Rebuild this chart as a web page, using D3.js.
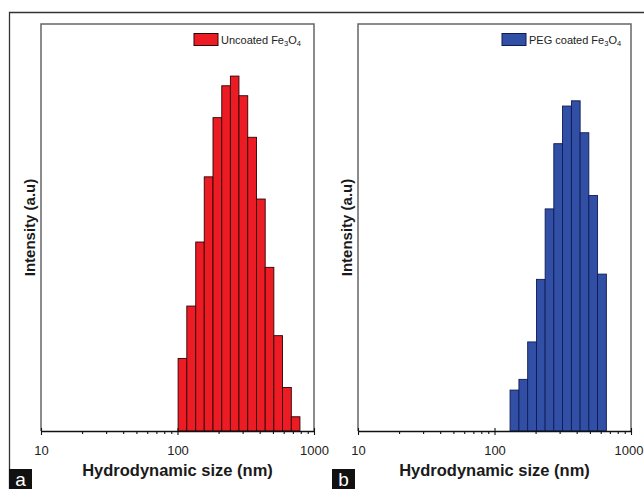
<!DOCTYPE html>
<html lang="en">
	<head>
		<meta charset="utf-8">
		<title>DLS size distribution</title>
		<script type="text/javascript" src="https://cdn.jsdelivr.net/npm/d3@7"></script>
		<style type="text/css">
			body { margin: 0; background: #fff; }
			text { font-family: "Liberation Sans", Arial, sans-serif; }
		</style>
	</head>
	<body>
		<script type="text/javascript">

			//Width and height
			var w = 644;
			var h = 489;

			//Bin edges (nm) and intensities
			var uncoatedEdges = [101, 117, 136, 157, 182, 211, 244, 282, 327, 379, 439, 508, 588, 682, 789];
			var uncoatedValues = [2.55, 4.39, 6.64, 8.93, 11.01, 12.13, 12.47, 11.78, 10.32, 8.15, 5.75, 3.35, 1.53, 0.50];

			var pegEdges = [130, 151, 175, 203, 235, 272, 315, 366, 424, 491, 569, 660];
			var pegValues = [1.87, 2.36, 4.07, 6.93, 10.15, 13.13, 14.85, 15.09, 13.63, 10.76, 7.17];

			var xTicksMajor = [10, 100, 1000];
			var xTicksMinor = [20, 30, 40, 50, 60, 70, 80, 90, 200, 300, 400, 500, 600, 700, 800, 900];

			var svg = d3.select("body")
						.append("svg")
						.attr("width", w)
						.attr("height", h);

			//outer figure frame
			svg.append("path")
			   .attr("d", "M9.5," + h + "V12.5H" + w)
			   .attr("fill", "none")
			   .attr("stroke", "#333")
			   .attr("stroke-width", 1.3);

			var panels = [
				{ edges: uncoatedEdges, values: uncoatedValues, yMax: 14.3, x0: 41, x1: 314,
				  fill: "#ed1c24", stroke: "#2a0505", legend: "Uncoated Fe", legX: 194, letter: "a", letX: 9 },
				{ edges: pegEdges, values: pegValues, yMax: 18.6, x0: 358, x1: 631,
				  fill: "#3150a5", stroke: "#101a55", legend: "PEG coated Fe", legX: 502, letter: "b", letX: 332 }
			];

			var plotTop = 24, plotBottom = 431;

			panels.forEach(function(p) {

				var xScale = d3.scaleLog()
							   .domain([10, 1000])
							   .range([p.x0, p.x1]);

				var yScale = d3.scaleLinear()
							   .domain([0, p.yMax])
							   .range([plotBottom, plotTop]);

				var bins = p.values.map(function(v, i) {
					return { lo: p.edges[i], hi: p.edges[i + 1], v: v };
				});

				var g = svg.append("g");

				g.selectAll("rect")
				 .data(bins)
				 .enter()
				 .append("rect")
				 .attr("x", function(d) { return xScale(d.lo); })
				 .attr("y", function(d) { return yScale(d.v); })
				 .attr("width", function(d) { return xScale(d.hi) - xScale(d.lo); })
				 .attr("height", function(d) { return plotBottom - yScale(d.v); })
				 .attr("fill", p.fill)
				 .attr("stroke", p.stroke)
				 .attr("stroke-width", 0.9);

				//frame: left, top, right in gray
				g.append("path")
				 .attr("d", "M" + p.x0 + "," + plotBottom + "V" + plotTop + "H" + p.x1 + "V" + plotBottom)
				 .attr("fill", "none")
				 .attr("stroke", "#666")
				 .attr("stroke-width", 1.5);

				//x axis
				var axis = g.append("g")
							.attr("transform", "translate(0," + plotBottom + ")")
							.call(d3.axisBottom(xScale)
									.tickValues(xTicksMajor.concat(xTicksMinor))
									.tickSizeOuter(0)
									.tickFormat(function(d) { return xTicksMajor.indexOf(d) >= 0 ? d : ""; }));

				axis.select(".domain").attr("stroke", "#111").attr("stroke-width", 1.3);
				axis.selectAll(".tick line")
					.attr("stroke", "#111")
					.attr("stroke-width", 1.1)
					.attr("y1", function(d) { return xTicksMajor.indexOf(d) >= 0 ? -3 : 0; })
					.attr("y2", function(d) { return xTicksMajor.indexOf(d) >= 0 ? 4 : 3; });
				axis.selectAll(".tick text")
					.attr("y", 15)
					.attr("font-family", "Liberation Sans, Arial, sans-serif")
					.attr("font-size", "13px")
					.attr("fill", "#222");
				//keep the last label inside the window
				axis.selectAll(".tick text")
					.filter(function(d) { return d === 1000 && p.x1 + 15 > w; })
					.attr("x", w - 1 - p.x1)
					.attr("text-anchor", "end");

				//axis titles
				g.append("text")
				 .attr("x", (p.x0 + p.x1) / 2)
				 .attr("y", 476)
				 .attr("text-anchor", "middle")
				 .attr("font-size", "16.5px")
				 .attr("font-weight", "bold")
				 .attr("fill", "#1a1a1a")
				 .text("Hydrodynamic size (nm)");

				g.append("text")
				 .attr("transform", "translate(" + (p.x0 - 6) + "," + ((plotTop + plotBottom) / 2) + ") rotate(-90)")
				 .attr("text-anchor", "middle")
				 .attr("font-size", "15px")
				 .attr("font-weight", "bold")
				 .attr("fill", "#1a1a1a")
				 .text("Intensity (a.u)");

				//legend
				g.append("rect")
				 .attr("x", p.legX)
				 .attr("y", 33.5)
				 .attr("width", 24)
				 .attr("height", 12)
				 .attr("fill", p.fill)
				 .attr("stroke", p.stroke)
				 .attr("stroke-width", 1);

				var lt = g.append("text")
						  .attr("x", p.legX + 27)
						  .attr("y", 44)
						  .attr("font-size", "11px")
						  .attr("fill", "#222");
				lt.append("tspan").text(p.legend);
				lt.append("tspan").attr("font-size", "7.5px").attr("dy", 2).text("3");
				lt.append("tspan").attr("dy", -2).text("O");
				lt.append("tspan").attr("font-size", "7.5px").attr("dy", 2).text("4");

				//panel letter
				g.append("rect")
				 .attr("x", p.letX)
				 .attr("y", 469)
				 .attr("width", 23)
				 .attr("height", 20)
				 .attr("fill", "#111");

				g.append("text")
				 .attr("x", p.letX + 11.5)
				 .attr("y", 486)
				 .attr("text-anchor", "middle")
				 .attr("font-size", "19px")
				 .attr("fill", "#fff")
				 .text(p.letter);
			});

		</script>
	</body>
</html>
